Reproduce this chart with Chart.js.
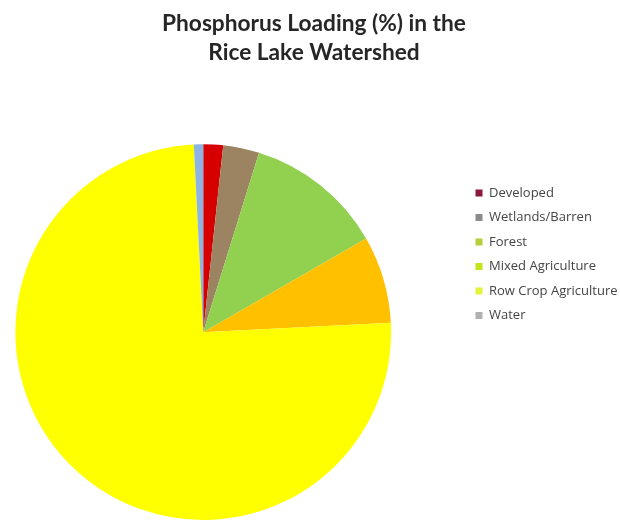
<!DOCTYPE html>
<html>
<head>
<meta charset="utf-8">
<script src="https://cdn.jsdelivr.net/npm/chart.js@4/dist/chart.umd.min.js"></script>
<style>
  html, body { margin: 0; padding: 0; background: #fff; }
  #wrap { width: 620px; height: 527px; }
</style>
</head>
<body>
<div id="wrap"><canvas id="pie" width="620" height="527"></canvas></div>
<script>
const categories = ['Developed', 'Wetlands/Barren', 'Forest', 'Mixed Agriculture', 'Row Crop Agriculture', 'Water'];
const loading = [1.7, 3.1, 11.9, 7.5, 75.0, 0.8];
const sliceColors = ['#d60000', '#9c8462', '#92d050', '#ffc000', '#ffff00', '#8db4e2'];
// the legend swatches in the original don't match the slices
const legendColors = ['#8b1a3c', '#8c8c8c', '#b4cf3c', '#c4e41c', '#e4f43c', '#b0b0b0'];

// push the legend over to the right, away from the pie,
// and center the title on the page instead of over the padded area
const moveLegend = {
    id: 'moveLegend',
    afterLayout(chart) {
        const lg = chart.legend;
        const w = lg.width, h = lg.height;
        lg.left = 464;
        lg.right = lg.left + w;
        lg.top = 175;
        lg.bottom = lg.top + h;
        chart.titleBlock.left = 8;
        chart.titleBlock.right = 620;
    }
};

const pie = document.getElementById('pie');

let pieChart = new Chart(pie, {
    type: 'pie',
    data: {
        labels: categories,
        datasets: [{
            label: 'Phosphorus Loading (%)',
            data: loading,
            backgroundColor: sliceColors,
            borderWidth: 0
        }]
    },
    options: {
        responsive: false,
        animation: false,
        layout: {
            padding: { left: 0, right: 50, top: 0, bottom: 7 }
        },
        plugins: {
            title: {
                display: true,
                text: ['Phosphorus Loading (%) in the', 'Rice Lake Watershed'],
                color: '#262626',
                font: {
                    family: 'Lato',
                    size: 22.7,
                    weight: 'bold',
                    lineHeight: 1.24
                },
                padding: { top: 10, bottom: 78 }
            },
            legend: {
                position: 'right',
                align: 'start',
                labels: {
                    boxWidth: 7,
                    boxHeight: 7,
                    padding: 11.5,
                    color: '#444',
                    font: {
                        family: 'Open Sans',
                        size: 13
                    },
                    generateLabels(chart) {
                        const items = Chart.overrides.pie.plugins.legend.labels.generateLabels(chart);
                        items.forEach((it, i) => {
                            it.fillStyle = legendColors[i];
                            it.strokeStyle = legendColors[i];
                            it.lineWidth = 0;
                        });
                        return items;
                    }
                }
            },
            tooltip: { enabled: false }
        }
    },
    plugins: [moveLegend]
});
</script>
</body>
</html>
